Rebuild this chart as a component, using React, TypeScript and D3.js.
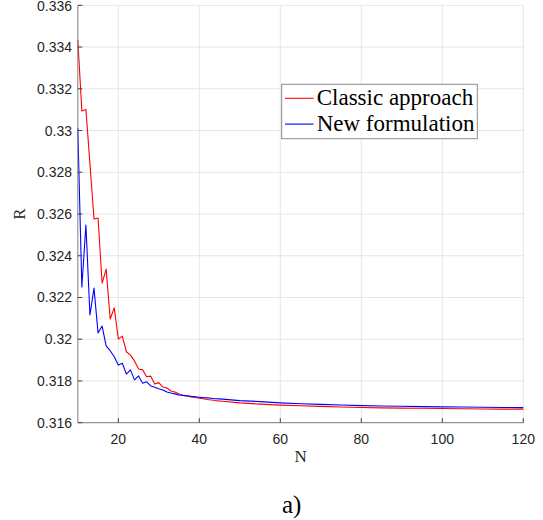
import React from "react";
import * as d3 from "d3";

const nValues = [10, 11, 12, 13, 14, 15, 16, 17, 18, 19, 20, 21, 22, 23, 24, 25, 26, 27, 28, 29, 30, 31, 32, 33, 34, 35, 36, 37, 38, 39, 40, 41, 42, 43, 44, 45, 50, 55, 60, 65, 70, 75, 80, 85, 90, 95, 100, 105, 110, 115, 120];

const classicR = [0.33434, 0.33094, 0.33101, 0.32840, 0.32576, 0.32581, 0.32269, 0.32336, 0.32097, 0.32150, 0.32001, 0.32015, 0.31940, 0.31924, 0.31896, 0.31857, 0.31853, 0.31820, 0.31823, 0.31785, 0.31792, 0.31771, 0.31766, 0.31752, 0.31747, 0.31738, 0.31730, 0.31727, 0.31723, 0.31721, 0.31717, 0.31715, 0.31711, 0.31709, 0.31706, 0.31704, 0.31695, 0.31689, 0.31684, 0.31681, 0.31678, 0.31675, 0.31673, 0.31671, 0.31670, 0.31669, 0.31668, 0.31667, 0.31666, 0.31665, 0.31665];

const newR = [0.33012, 0.32250, 0.32547, 0.32116, 0.32245, 0.32030, 0.32063, 0.31968, 0.31945, 0.31916, 0.31876, 0.31885, 0.31833, 0.31853, 0.31805, 0.31824, 0.31789, 0.31796, 0.31776, 0.31770, 0.31763, 0.31757, 0.31747, 0.31742, 0.31738, 0.31733, 0.31731, 0.31729, 0.31726, 0.31724, 0.31722, 0.31720, 0.31719, 0.31717, 0.31715, 0.31714, 0.31706, 0.31701, 0.31695, 0.31691, 0.31688, 0.31685, 0.31682, 0.31680, 0.31679, 0.31677, 0.31676, 0.31675, 0.31674, 0.31673, 0.31672];

const xTicks = [20, 40, 60, 80, 100, 120];
const yTicks = [0.316, 0.318, 0.32, 0.322, 0.324, 0.326, 0.328, 0.33, 0.332, 0.334, 0.336];
const yTickLabels = ["0.316", "0.318", "0.32", "0.322", "0.324", "0.326", "0.328", "0.33", "0.332", "0.334", "0.336"];
const seriesNames = ["Classic approach", "New formulation"];
const seriesColors = ["#ff0000", "#0000ff"];

export default function App() {
  const W = 543, H = 520;
  const x = d3.scaleLinear().domain([10, 120]).range([77.8, 523.3]);
  const y = d3.scaleLinear().domain([0.316, 0.336]).range([422.7, 5.3]);
  const line = d3.line<number>().x((_, i) => x(nValues[i])).y((d) => y(d));
  const series = [classicR, newR];
  const sans = "'Liberation Sans', Arial, Helvetica, sans-serif";
  const serif = "'Liberation Serif', 'Times New Roman', serif";
  const axisColor = "#808080";
  const gridColor = "#e6e6e6";
  const x0 = x.range()[0], x1 = x.range()[1];
  const yb = y.range()[0], yt = y.range()[1];

  return (
    <svg width={W} height={H} style={{ position: "absolute", left: 0, top: 0, background: "#fff" }}>
      <rect width={W} height={H} fill="#fff" />
      {xTicks.map((t) => (
        <line key={"gx" + t} x1={x(t)} x2={x(t)} y1={yb} y2={yt} stroke={gridColor} strokeWidth={1} />
      ))}
      {yTicks.map((t) => (
        <line key={"gy" + t} x1={x0} x2={x1} y1={y(t)} y2={y(t)} stroke={gridColor} strokeWidth={1} />
      ))}
      {series.map((s, i) => (
        <path key={"s" + i} d={line(s) || ""} fill="none" stroke={seriesColors[i]} strokeWidth={1.1} strokeLinejoin="round" />
      ))}
      <line x1={x0} x2={x1} y1={yb} y2={yb} stroke={axisColor} strokeWidth={1} />
      <line x1={x0} x2={x0} y1={yb} y2={yt} stroke={axisColor} strokeWidth={1} />
      {xTicks.map((t) => (
        <g key={"tx" + t}>
          <line x1={x(t)} x2={x(t)} y1={yb} y2={yb - 4.5} stroke="#404040" strokeWidth={1} />
          <text x={x(t)} y={444} textAnchor="middle" fontFamily={sans} fontSize={14} fill="#262626">{t}</text>
        </g>
      ))}
      {yTicks.map((t, i) => (
        <g key={"ty" + t}>
          <line x1={x0} x2={x0 + 4.5} y1={y(t)} y2={y(t)} stroke="#404040" strokeWidth={1} />
          <text x={72} y={Math.max(y(t) + 5, 11)} textAnchor="end" fontFamily={sans} fontSize={14} fill="#262626">{yTickLabels[i]}</text>
        </g>
      ))}
      <text x={(x0 + x1) / 2} y={462.3} textAnchor="middle" fontFamily={serif} fontSize={17} fill="#262626">N</text>
      <text transform={`translate(24.5, ${(yb + yt) / 2}) rotate(-90)`} textAnchor="middle" fontFamily={serif} fontSize={17} fill="#262626">R</text>
      <rect x={281.7} y={84.3} width={195.6} height={54.4} fill="#fff" stroke="#8c8c8c" strokeWidth={1} />
      {seriesNames.map((name, i) => (
        <g key={"lg" + i}>
          <line x1={285} x2={313.5} y1={98.3 + i * 25.8} y2={98.3 + i * 25.8} stroke={seriesColors[i]} strokeWidth={1.1} />
          <text x={316.7} y={105 + i * 25.8} fontFamily={serif} fontSize={23} fill="#000">{name}</text>
        </g>
      ))}
      <text x={291.7} y={512.7} textAnchor="middle" fontFamily={serif} fontSize={25} fill="#000">a)</text>
    </svg>
  );
}
